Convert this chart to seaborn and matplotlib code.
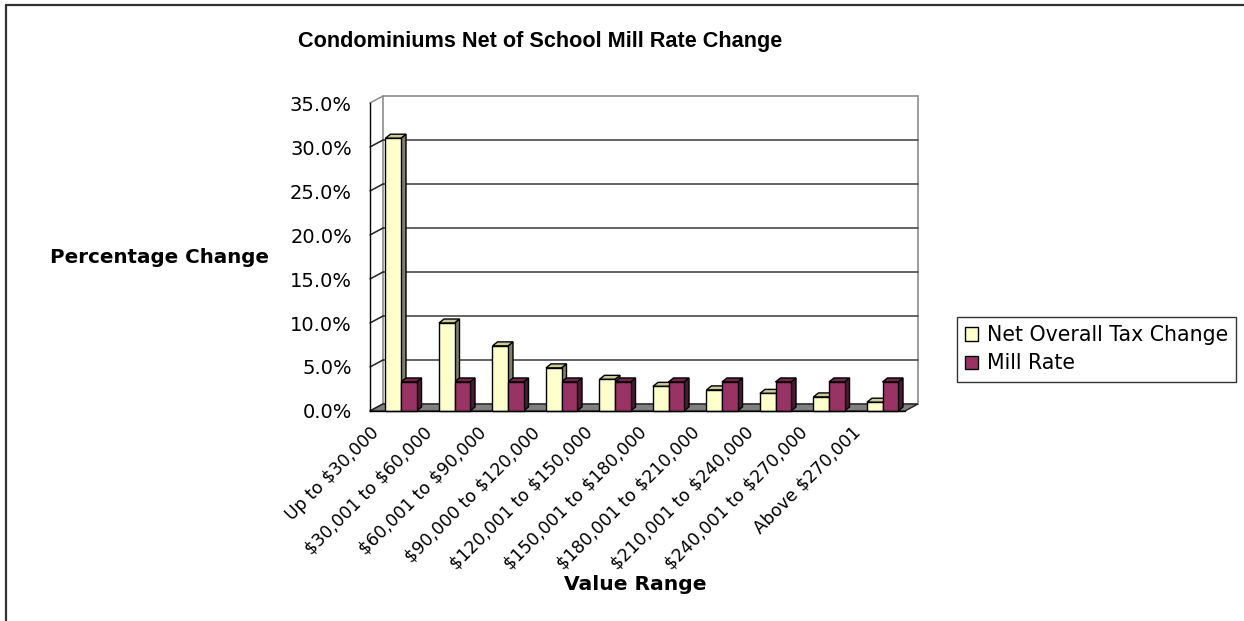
import numpy as np
import pandas as pd
import matplotlib
matplotlib.use("Agg")
import matplotlib.pyplot as plt
from matplotlib.patches import Polygon, Rectangle
from matplotlib.lines import Line2D
import seaborn as sns

# ---- data -------------------------------------------------------------
value_ranges = [
    "Up to $30,000",
    "$30,001 to $60,000",
    "$60,001 to $90,000",
    "$90,000 to $120,000",
    "$120,001 to $150,000",
    "$150,001 to $180,000",
    "$180,001 to $210,000",
    "$210,001 to $240,000",
    "$240,001 to $270,000",
    "Above $270,001",
]
net_overall_tax_change = [31.0, 10.0, 7.4, 4.9, 3.6, 2.8, 2.4, 2.0, 1.6, 1.0]
mill_rate = [3.3, 3.3, 3.3, 3.3, 3.3, 3.3, 3.3, 3.3, 3.3, 3.3]
series_names = ["Net Overall Tax Change", "Mill Rate"]
y_ticks = [0, 5, 10, 15, 20, 25, 30, 35]

front_colors = ["#FFFFCC", "#993366"]
top_colors = ["#CCCC99", "#73264D"]
side_colors = ["#808066", "#4C1933"]

# ---- figure / axes layout (pixel based) -------------------------------
sns.set_theme(style="white")
plt.rcParams["font.family"] = ["DejaVu Sans"]
plt.rcParams["text.parse_math"] = False
plt.rcParams["text.color"] = "black"
plt.rcParams["axes.labelcolor"] = "black"
plt.rcParams["xtick.color"] = "black"
plt.rcParams["ytick.color"] = "black"

W, H = 1244, 621
fig = plt.figure(figsize=(W / 100, H / 100), dpi=100)
fig.patch.set_facecolor("white")

ax_l, ax_r, ax_b, ax_t = 370, 905, 411, 103
ax = fig.add_axes([ax_l / W, 1 - ax_b / H, (ax_r - ax_l) / W, (ax_b - ax_t) / H])
ax.set_facecolor("none")

df = pd.DataFrame({
    "Value Range": value_ranges * 2,
    "Change": net_overall_tax_change + mill_rate,
    "Series": [series_names[0]] * len(value_ranges) + [series_names[1]] * len(value_ranges),
})

sns.barplot(data=df, x="Value Range", y="Change", hue="Series",
            hue_order=series_names, palette=front_colors, width=0.58,
            saturation=1, edgecolor="black", linewidth=1.0, ax=ax, zorder=3)

ax.set_xlim(-0.5, len(value_ranges) - 0.5)
ax.set_ylim(y_ticks[0], y_ticks[-1])

# pixel -> data unit factors
ux = len(value_ranges) / (ax_r - ax_l)
uy = (y_ticks[-1] - y_ticks[0]) / (ax_b - ax_t)
wdx, wdy = 13 * ux, 7 * uy      # depth of the walls / floor
bdx, bdy = 5 * ux, 4 * uy       # depth of each column
shift = 4.25 * ux               # columns sit mid-depth

x0, x1 = -0.5, len(value_ranges) - 0.5
ytop = y_ticks[-1]

# back wall
ax.add_patch(Rectangle((x0 + wdx, wdy), x1 - x0, ytop, facecolor="white",
                       edgecolor="#8c8c8c", lw=1.2, zorder=0.5, clip_on=False))
for yv in y_ticks[1:-1]:
    ax.add_line(Line2D([x0 + wdx, x1 + wdx], [yv + wdy, yv + wdy],
                       color="#3a3a3a", lw=1.1, zorder=1, clip_on=False))
# side wall tick connectors
for yv in y_ticks:
    col = "#8c8c8c" if yv == ytop else "#222222"
    ax.add_line(Line2D([x0, x0 + wdx], [yv, yv + wdy], color=col, lw=1.1,
                       zorder=1, clip_on=False))
# floor
ax.add_patch(Polygon([(x0, 0), (x1, 0), (x1 + wdx, wdy), (x0 + wdx, wdy)],
                     closed=True, facecolor="#808080", edgecolor="#222222",
                     lw=1.0, zorder=1.5, clip_on=False))

# 3-D faces for every column
for k, container in enumerate(ax.containers):
    for bar in container:
        bar.set_x(bar.get_x() + shift)
        bx, bw, bh = bar.get_x(), bar.get_width(), bar.get_height()
        top = Polygon([(bx, bh), (bx + bw, bh), (bx + bw + bdx, bh + bdy),
                       (bx + bdx, bh + bdy)], closed=True,
                      facecolor=top_colors[k], edgecolor="black", lw=1.0,
                      zorder=2.5, clip_on=False)
        side = Polygon([(bx + bw, 0), (bx + bw, bh), (bx + bw + bdx, bh + bdy),
                        (bx + bw + bdx, bdy)], closed=True,
                       facecolor=side_colors[k], edgecolor="black", lw=1.0,
                       zorder=2.5, clip_on=False)
        ax.add_patch(side)
        ax.add_patch(top)
        bar.set_clip_on(False)

# axes, ticks, labels
for s in ["top", "right"]:
    ax.spines[s].set_visible(False)
for s in ["left", "bottom"]:
    ax.spines[s].set_color("black")
    ax.spines[s].set_linewidth(1.0)
    ax.spines[s].set_zorder(4)
ax.grid(False)

boundaries = np.arange(x0, x1 + 0.5, 1.0)
ax.set_xticks(boundaries)
ax.set_xticklabels(value_ranges + [""], rotation=45, ha="right",
                   rotation_mode="anchor", fontsize=12.5)
ax.set_yticks(y_ticks)
ax.set_yticklabels([f"{v:.1f}%" for v in y_ticks], fontsize=14)
ax.tick_params(axis="both", which="major", direction="out", length=7,
               width=1.0, color="black", labelcolor="black")
ax.tick_params(axis="x", pad=2)
ax.tick_params(axis="y", pad=6)
ax.set_xlabel("")
ax.set_ylabel("")

# legend
handles, labels = ax.get_legend_handles_labels()
leg = ax.legend(handles, labels, loc="upper left",
                bbox_to_anchor=(957 / W, 1 - 317 / H),
                bbox_transform=fig.transFigure, frameon=True, fancybox=False,
                edgecolor="black", fontsize=14.8, handlelength=0.6,
                handleheight=0.6, handletextpad=0.45, borderpad=0.4,
                labelspacing=0.4, borderaxespad=0)
leg.get_frame().set_linewidth(1.0)
for h in leg.legend_handles:
    h.set_edgecolor("black")
    h.set_linewidth(1.0)

# titles
fig.text(540 / W, 1 - 41 / H, "Condominiums Net of School Mill Rate Change",
         ha="center", va="center", fontsize=15.6, fontweight="bold",
         family="Liberation Sans", color="black")
fig.text(160 / W, 1 - 257 / H, "Percentage Change", ha="center", va="center",
         fontsize=14.3, fontweight="bold", color="black")
fig.text(635 / W, 1 - 585 / H, "Value Range", ha="center", va="center",
         fontsize=14.6, fontweight="bold", color="black")

# chart-area frame
fig.add_artist(Line2D([6 / W, 6 / W], [0, 1 - 5 / H], transform=fig.transFigure,
                      color="#333333", lw=1.6))
fig.add_artist(Line2D([6 / W, 1], [1 - 5 / H, 1 - 5 / H], transform=fig.transFigure,
                      color="#333333", lw=1.6))

fig.savefig("out.png", dpi=100)
